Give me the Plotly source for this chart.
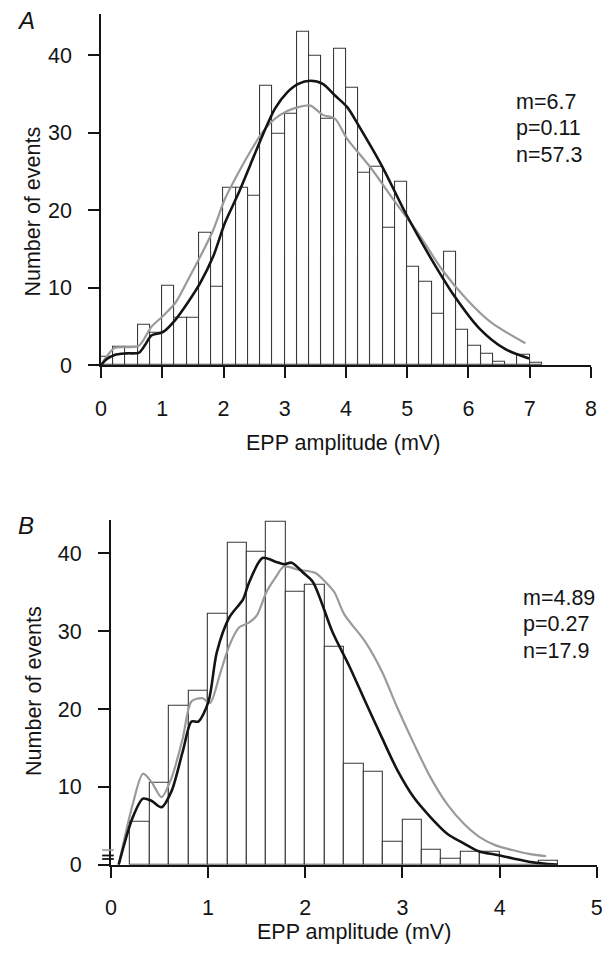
import plotly.graph_objects as go

# ---------------- Panel A data ----------------
a_bin_left = [0.0, 0.2, 0.4, 0.6, 0.8, 1.0, 1.2, 1.4, 1.6, 1.8,
              2.0, 2.2, 2.4, 2.6, 2.8, 3.0, 3.2, 3.4, 3.6, 3.8,
              4.0, 4.2, 4.4, 4.6, 4.8, 5.0, 5.2, 5.4, 5.6, 5.8,
              6.0, 6.2, 6.4, 6.6, 6.8, 7.0]
a_counts = [1.0, 2.3, 2.3, 5.2, 4.2, 10.2, 6.1, 6.1, 17.1, 10.1,
            22.9, 22.9, 21.9, 36.0, 29.9, 32.5, 43.0, 39.9, 31.8, 40.8,
            35.8, 24.8, 25.6, 17.7, 23.7, 12.7, 10.7, 6.6, 14.6, 4.5,
            2.5, 1.5, 0.4, 0.0, 1.3, 0.3]

a_black_x = [0, 0.1, 0.22, 0.42, 0.62, 0.72, 0.82, 0.95, 1.02, 1.22, 1.42, 1.62, 1.83,
             2.02, 2.24, 2.44, 2.64, 2.84, 3.04, 3.22, 3.42, 3.62, 3.82, 4.02, 4.2,
             4.6, 4.98, 5.37, 5.77, 6.18, 6.59, 6.99]
a_black_y = [0, 0.8, 1.3, 1.5, 1.6, 2.6, 3.8, 4.1, 4.3, 5.9, 8.1, 10.6, 14.0,
             18.3, 22.1, 25.9, 29.7, 33.1, 35.2, 36.3, 36.7, 36.3, 34.8, 33.3, 31.0,
             25.5, 19.5, 14.0, 8.9, 4.7, 2.1, 0.85]

a_gray_x = [0, 0.1, 0.22, 0.42, 0.62, 0.82, 1.02, 1.22, 1.42, 1.62, 1.83, 2.02, 2.24,
            2.44, 2.64, 2.84, 3.04, 3.22, 3.42, 3.62, 3.82, 4.01, 4.4, 4.79, 5.18,
            5.57, 5.97, 6.37, 6.93]
a_gray_y = [0, 1.2, 2.2, 2.3, 2.5, 4.9, 6.4, 8.1, 11.0, 14.0, 17.4, 21.4, 24.8,
            27.6, 30.1, 31.8, 32.8, 33.3, 33.5, 32.3, 31.8, 29.3, 25.5, 21.2, 17.0,
            12.3, 8.5, 5.5, 2.8]

a_params = ["m=6.7", "p=0.11", "n=57.3"]
a_xticks = [0, 1, 2, 3, 4, 5, 6, 7, 8]
a_yticks = [0, 10, 20, 30, 40]

# ---------------- Panel B data ----------------
b_bin_left = [0.2, 0.4, 0.6, 0.8, 1.0, 1.2, 1.4, 1.6, 1.8, 2.0,
              2.2, 2.4, 2.6, 2.8, 3.0, 3.2, 3.4, 3.6, 3.8, 4.0,
              4.2, 4.4]
b_counts = [5.5, 10.5, 20.4, 22.3, 32.2, 41.3, 40.2, 44.0, 35.0, 35.9,
            28.0, 13.0, 12.0, 2.9, 5.8, 1.9, 0.8, 1.7, 1.7, 0.0,
            0.0, 0.5]

b_black_x = [0.08, 0.225, 0.33, 0.42, 0.52, 0.625, 0.74, 0.83, 0.9, 1.005, 1.09,
             1.22, 1.36, 1.42, 1.56, 1.7, 1.78, 1.86, 1.98, 2.08, 2.28, 2.45,
             2.62, 2.79, 2.95, 3.12, 3.29, 3.46, 3.63, 3.79, 3.96, 4.13, 4.3, 4.6]
b_black_y = [0, 6.1, 8.5, 8.2, 7.4, 9.5, 14.6, 18.4, 18.4, 21.0, 27.3,
             31.8, 34.1, 36.2, 39.4, 38.9, 38.6, 38.8, 37.5, 36.3, 29.9, 25.6,
             20.9, 16.3, 12.1, 8.6, 6.1, 4.0, 2.75, 1.7, 1.3, 0.85, 0.4, 0.0]

b_gray_x = [0.08, 0.225, 0.33, 0.42, 0.52, 0.625, 0.74, 0.83, 0.94, 1.02, 1.12,
            1.22, 1.32, 1.42, 1.5, 1.6, 1.7, 1.78, 1.93, 2.1, 2.21, 2.3, 2.4,
            2.62, 2.79, 2.95, 3.12, 3.29, 3.46, 3.63, 3.79, 3.96, 4.13, 4.3, 4.48]
b_gray_y = [0, 7.8, 11.7, 10.6, 8.7, 11.2, 16.3, 21.0, 21.4, 20.8, 24.4,
            28.2, 30.5, 31.1, 32.0, 35.0, 37.0, 38.3, 37.9, 37.5, 36.3, 35.0, 32.2,
            28.6, 24.8, 20.1, 15.5, 11.2, 7.8, 5.3, 3.6, 2.5, 1.9, 1.4, 1.1]

b_zero_black = [1.2, 0.75]
b_zero_gray = [1.9]

b_params = ["m=4.89", "p=0.27", "n=17.9"]
b_xticks = [0, 1, 2, 3, 4, 5]
b_yticks = [0, 10, 20, 30, 40]

BIN_W = 0.2
FONT = "Liberation Sans, Arial, Helvetica, sans-serif"
FS = 21.5
BLACK = "#141414"
GRAY = "#9a9a9a"
BAR_EDGE = "#3a3a3a"

A_YMAX = 45.35
B_YMAX = 44.3

W, H = 608, 960


def px_x(px):
    return px / W


def px_y(py):
    return (H - py) / H


fig = go.Figure()


def add_panel(bin_left, counts, gx, gy, bx, by, xa, ya):
    fig.add_trace(go.Bar(
        x=[b + BIN_W / 2 for b in bin_left], y=counts, width=BIN_W,
        marker=dict(color="white", line=dict(color=BAR_EDGE, width=1.1)),
        xaxis=xa, yaxis=ya, showlegend=False, hoverinfo="skip"))
    fig.add_trace(go.Scatter(
        x=gx, y=gy, mode="lines",
        line=dict(color=GRAY, width=2.2, shape="spline", smoothing=0.8),
        xaxis=xa, yaxis=ya, showlegend=False))
    fig.add_trace(go.Scatter(
        x=bx, y=by, mode="lines",
        line=dict(color=BLACK, width=2.6, shape="spline", smoothing=0.8),
        xaxis=xa, yaxis=ya, showlegend=False))


add_panel(a_bin_left, a_counts, a_gray_x, a_gray_y, a_black_x, a_black_y, "x", "y")
add_panel(b_bin_left, b_counts, b_gray_x, b_gray_y, b_black_x, b_black_y, "x2", "y2")

axis_common = dict(
    showline=True, linecolor=BLACK, linewidth=1.6,
    ticks="outside", ticklen=11, tickwidth=1.6, tickcolor=BLACK,
    showgrid=False, zeroline=False,
    tickfont=dict(family=FONT, size=FS, color=BLACK),
    ticklabelstandoff=12,
)

fig.update_layout(
    width=W, height=H,
    margin=dict(l=0, r=0, t=0, b=0),
    paper_bgcolor="white", plot_bgcolor="white",
    bargap=0,
    xaxis=dict(domain=[px_x(97), px_x(596.7)], range=[0, 8], tickvals=a_xticks,
               anchor="y", **axis_common),
    yaxis=dict(domain=[px_y(370), px_y(14)], range=[0, A_YMAX],
               tickvals=a_yticks, anchor="x", **axis_common),
    xaxis2=dict(domain=[px_x(107), px_x(602.7)], range=[0, 5], tickvals=b_xticks,
                anchor="y2", **axis_common),
    yaxis2=dict(domain=[px_y(876.7), px_y(527)], range=[0, B_YMAX],
                tickvals=b_yticks, anchor="x2", **axis_common),
)

ann = []
txt_font = dict(family=FONT, size=FS, color=BLACK)


def add_text(text, px, py, font=txt_font, xanchor="center", angle=0):
    ann.append(dict(text=text, x=px_x(px), y=px_y(py), xref="paper", yref="paper",
                    xanchor=xanchor, yanchor="middle", textangle=angle,
                    showarrow=False, font=font))


letter_font = dict(family=FONT, size=24, color=BLACK)
add_text("<i>A</i>", 20, 21, font=letter_font)
add_text("<i>B</i>", 20, 533, font=letter_font)
add_text("Number of events", 28, 214, angle=-90)
add_text("Number of events", 28, 700, angle=-90)
add_text("EPP amplitude (mV)", 344, 449)
add_text("EPP amplitude (mV)", 355, 945)
for t, py in zip(a_params, [103, 130, 157]):
    add_text(t, 518, py, xanchor="left")
for t, py in zip(b_params, [606, 633, 660]):
    add_text(t, 525, py, xanchor="left")
fig.update_layout(annotations=ann)

# short marks at the y axis of panel B (curve values at zero)
shapes = []
for v in b_zero_gray:
    shapes.append(dict(type="line", xref="x2 domain", yref="y2 domain",
                       x0=-0.018, x1=0.006, y0=v / B_YMAX, y1=v / B_YMAX,
                       line=dict(color=GRAY, width=1.6)))
for v in b_zero_black:
    shapes.append(dict(type="line", xref="x2 domain", yref="y2 domain",
                       x0=-0.018, x1=0.006, y0=v / B_YMAX, y1=v / B_YMAX,
                       line=dict(color=BLACK, width=1.8)))
fig.update_layout(shapes=shapes)

# pin the figure to the window's top-left corner, with no page margin or overflow
page_js = (
    "document.documentElement.style.margin='0';"
    "document.documentElement.style.overflow='hidden';"
    "document.documentElement.style.height='960px';"
    "document.body.style.margin='0';"
    "document.body.style.overflow='hidden';"
    "document.body.style.height='960px';"
    "var g=document.querySelector('.plotly-graph-div');"
    "g.style.position='absolute';g.style.left='0px';g.style.top='0px';"
)

fig.write_html("out.html", config={"displayModeBar": False}, post_script=page_js)
